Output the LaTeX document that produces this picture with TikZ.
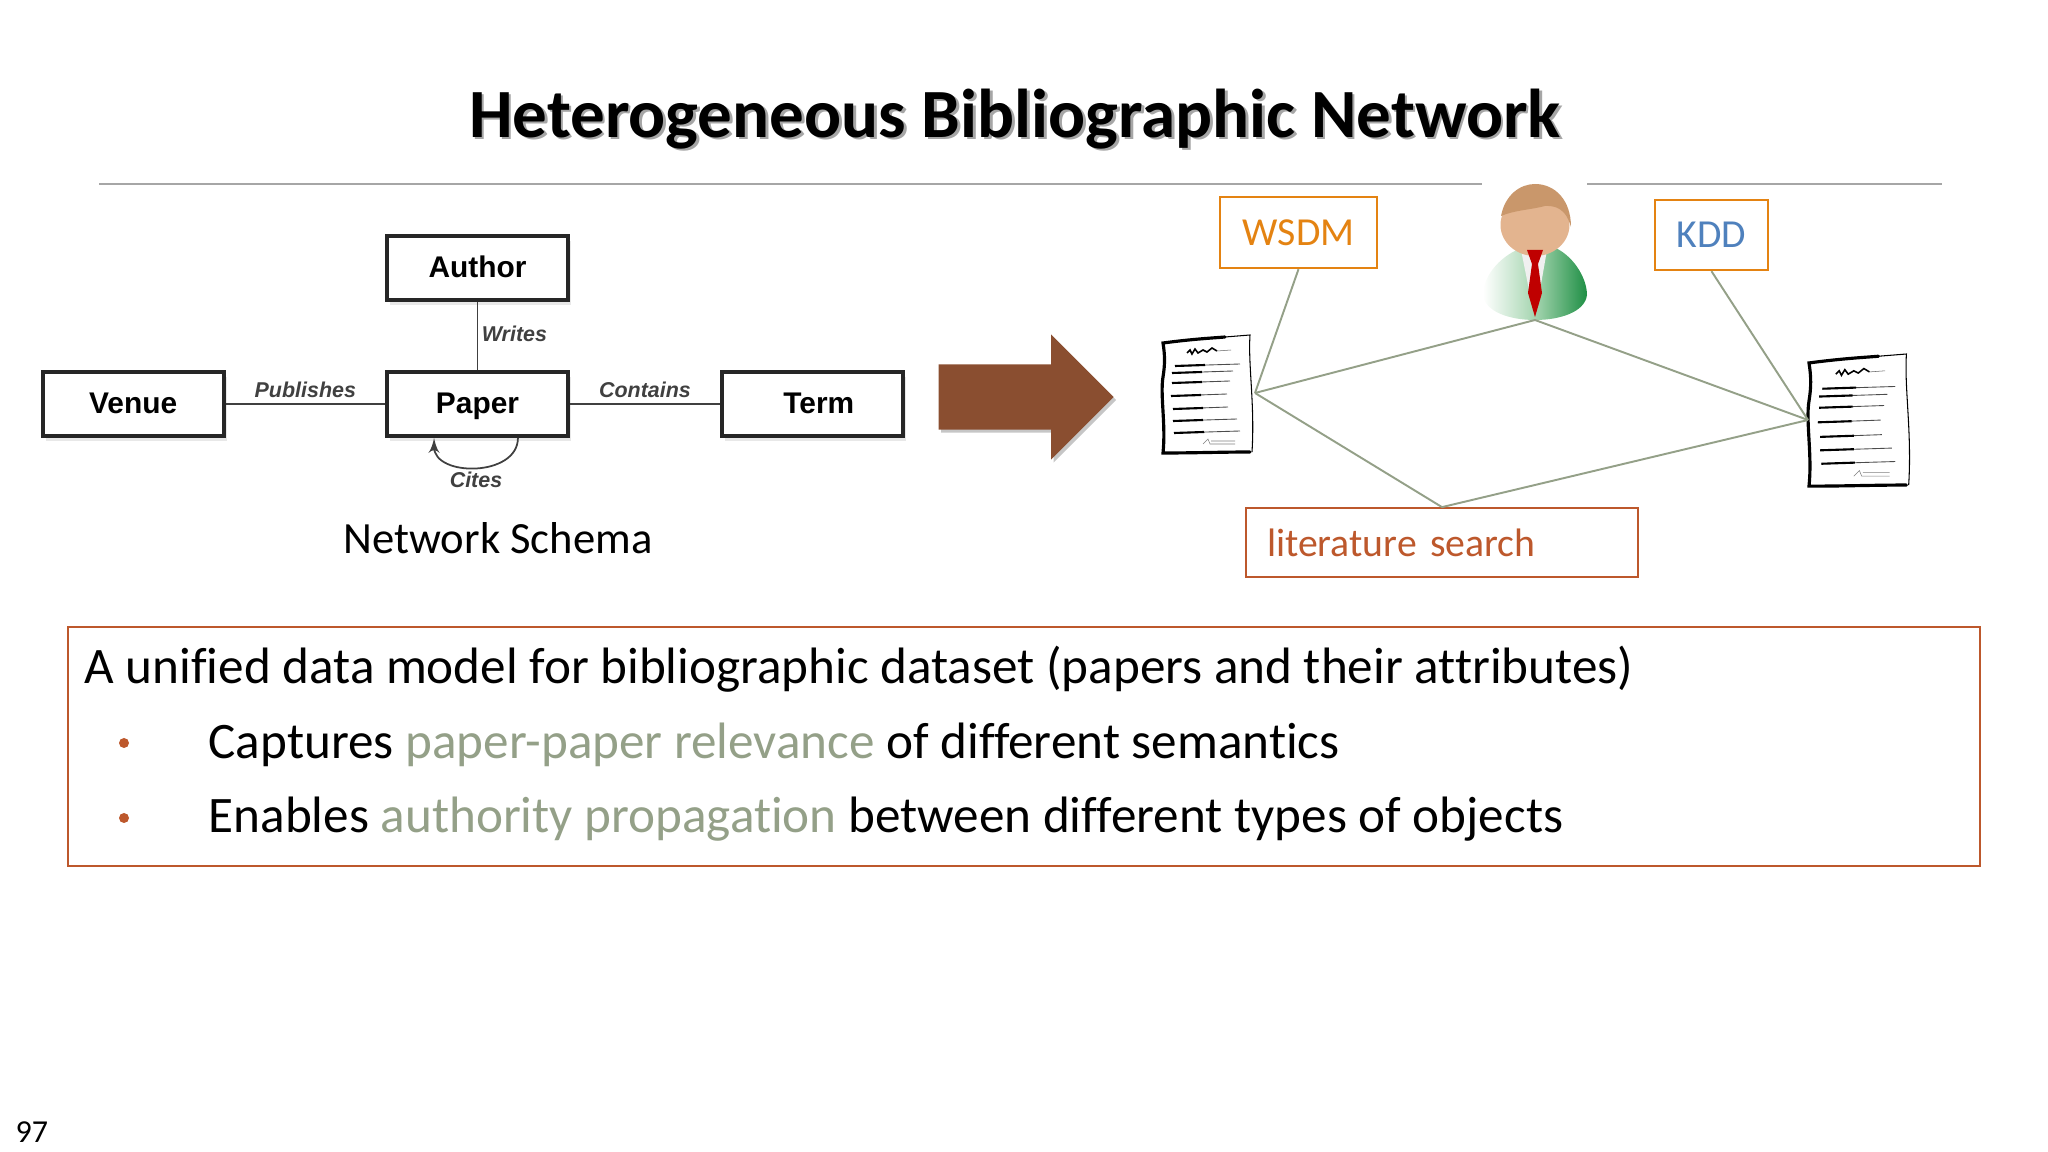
\documentclass[tikz,border=0pt]{standalone}
\usepackage{fontspec}
\setmainfont{Carlito}[Ligatures=CommonOff]
\newfontfamily\schemafont{Liberation Sans}
\usetikzlibrary{arrows, positioning, shadows, shapes.arrows}
\definecolor{sorange}{HTML}{E48312}
\definecolor{srust}{HTML}{BD582C}
\definecolor{sbrown}{HTML}{8A4E30}
\definecolor{ssage}{HTML}{94A088}
\definecolor{sblue}{HTML}{4F81BD}
\definecolor{sgreen}{HTML}{1F8F45}
\definecolor{spale}{HTML}{A5D5B0}
\definecolor{shair}{HTML}{C9976B}
\definecolor{sface}{HTML}{E3B48F}
\newcommand{\sage}[1]{\textcolor{ssage}{#1}}

\begin{document}
\begin{tikzpicture}
    [
        x=1cm, y=-1cm,
        node distance=7mm,
        entity/.style ={rectangle, draw=black!85, line width=1.1pt, fill=white,
                        minimum width=18.1mm, minimum height=6.4mm, inner sep=0pt,
                        text height=2.4mm, text depth=.5mm,
                        font=\schemafont\bfseries\fontsize{8.5}{10}\selectfont,
                        drop shadow={opacity=.18, shadow xshift=.3mm, shadow yshift=-.5mm}},
        relation/.style ={font=\schemafont\bfseries\itshape\fontsize{6.1}{8}\selectfont,
                        text=black!75, inner sep=1pt},
        rel/.style  ={draw=black!75, line width=.5pt},
        venue/.style ={rectangle, draw=#1, line width=.7pt, fill=white, inner sep=0pt,
                        font=\fontsize{11.3}{14}\selectfont},
        link/.style ={draw=ssage, line width=.55pt},
        bodytext/.style ={anchor=base west, inner sep=0pt, text=black,
                        font=\fontsize{14.56}{17}\selectfont},
        bullet/.style ={circle, fill=srust, inner sep=0pt, minimum size=1mm},
        docline/.style ={line width=.25pt, black!70},
        paperdoc/.pic={
            \fill[white] (0,.08) -- (.87,0) -- (.9,1.16) -- (0,1.18) -- cycle;
            \draw[line width=.9pt, line cap=round] (.87,1.17)
                .. controls (.6,1.17) and (.3,1.18) .. (0,1.18)
                .. controls (.03,.9) and (-.03,.6) .. (0,.42)
                .. controls (.02,.3) and (.02,.2) .. (0,.08)
                .. controls (.3,.04) and (.5,.03) .. (.62,.02);
            \draw[line width=.3pt] (.62,.02) -- (.87,0)
                .. controls (.85,.3) and (.92,.7) .. (.89,1.17);
            \draw[line width=.45pt] (.24,.18) -- (.27,.15) -- (.29,.19) -- (.32,.14) -- (.35,.18)
                -- (.4,.15) -- (.44,.17) -- (.49,.13) -- (.54,.16);
            \draw[line width=.15pt, black!60] (.54,.16) -- (.68,.15);
            \foreach \xa/\xb/\yy in {.12/.77/.31, .09/.7/.38, .09/.67/.48, .08/.64/.61,
                                     .1/.65/.74, .1/.74/.86, .11/.77/.98}
            {
                \draw[docline] (\xa,\yy) -- (\xb,\yy-.02);
                \draw[line width=.6pt] (\xa,\yy) -- ({\xa+.3},\yy-.01);
            }
            \draw[line width=.15pt, black!50] (.4,1.09) -- (.45,1.04) -- (.47,1.09) -- (.72,1.09)
                (.48,1.06) -- (.72,1.06);
        },
        reader/.pic={
            % shoulders
            \shade[left color=white, right color=sgreen, middle color=spale]
                (-.52,-.25) .. controls (-.52,-.42) and (-.38,-.62) .. (-.14,-.72)
                -- (.16,-.74) .. controls (.38,-.66) and (.52,-.42) .. (.52,-.25)
                .. controls (.5,-.08) and (.25,0) .. (0,0)
                .. controls (-.25,0) and (-.5,-.08) .. (-.52,-.25) -- cycle;
            \fill[black!6] (-.14,-.7) -- (.12,-.7) -- (.05,-.3) -- (-.06,-.3) -- cycle;
            % head and hair
            \fill[sface] (0,-.95) ellipse (.345 and .31);
            \fill[shair] (-.34,-1.04) .. controls (-.3,-1.25) and (-.15,-1.36) .. (0,-1.36)
                .. controls (.2,-1.36) and (.36,-1.2) .. (.36,-.93)
                .. controls (.33,-1.03) and (.28,-1.15) .. (.1,-1.14)
                .. controls (-.05,-1.1) and (-.2,-1.1) .. (-.34,-1.04) -- cycle;
            % tie
            \fill[red!75!black] (-.08,-.7) -- (.08,-.7) -- (.03,-.56) -- (.07,-.27) -- (0,-.03)
                -- (-.07,-.27) -- (-.03,-.56) -- cycle;
        }
    ]

    \useasboundingbox (0,0) rectangle (20.48,11.52);

    % title and rule
    \node[text=black!35, font=\bfseries\fontsize{19.65}{22}\selectfont] (titleshade) at (10.175,1.215) {Heterogeneous Bibliographic Network};
    \node[font=\bfseries\fontsize{19.65}{22}\selectfont] (title) at (10.15,1.19) {Heterogeneous Bibliographic Network};
    \coordinate (rulea) at (.99,1.84);
    \coordinate (ruleb) at (14.82,1.84);
    \coordinate (rulec) at (15.87,1.84);
    \coordinate (ruled) at (19.42,1.84);
    \draw[black!35, line width=.3pt] (rulea) -- (ruleb) (rulec) -- (ruled);

    % schema
    \node[entity]     (paper)                          at (4.775,4.04) {Paper};
    \node[entity]     (author)  [above=6.8mm of paper]                  {Author};
    \node[entity]     (venue)   [left=15.95mm of paper]                 {Venue};
    \node[entity]     (term)    [right=15mm of paper]                   {\hspace*{1.3mm}Term};

    \draw[rel]     (author) to node[relation, right, yshift=.2mm] {Writes} (paper);
    \draw[rel]     (venue) to node[relation, above, yshift=.2mm] {Publishes} (paper);
    \draw[rel]     (paper) to node[relation, above, yshift=.2mm] {Contains} (term);
    \draw[rel, ->, >=latex'] (paper.-40) to [out=-90, in=-90, looseness=1.2]
        node[relation, below] {Cites} (paper.-142);

    \node[font=\fontsize{12.7}{14}\selectfont, inner sep=0pt] (schema) at (4.98,5.38) {Network Schema};

    % big arrow
    \node[single arrow, fill=sbrown, draw=none, anchor=west, inner xsep=0pt, inner ysep=3.2mm,
          minimum height=17.5mm, single arrow head extend=3mm,
          drop shadow={opacity=.45, shadow xshift=.25mm, shadow yshift=-.3mm}] (bigarrow) at (9.38,3.97) {};

    % instance network
    \node[venue=sorange, text=sorange, minimum width=15.7mm, minimum height=7.1mm] (wsdm) at (12.985,2.325) {WSDM};
    \node[venue=sorange, text=sblue, minimum width=11.3mm, minimum height=7mm]     (kdd)  at (17.115,2.35) {KDD};
    \node[venue=srust, text=srust, minimum width=39.2mm, minimum height=6.9mm, text width=35mm, align=left, line width=.5pt] (topic) at (14.42,5.425) {literature search};

    \pic at (15.35,3.2) {reader};
    \coordinate (person) at (15.35,3.2);
    \pic at (11.63,3.35) {paperdoc};
    \pic[scale=1.12] at (18.09,3.54) {paperdoc};
    \coordinate (docleft) at (12.55,3.93);
    \coordinate (docright) at (18.08,4.2);

    \draw[link]     (wsdm.south) to (docleft);
    \draw[link]     (person) to (docleft);
    \draw[link]     (docleft) to (topic.north);
    \draw[link]     (person) to (docright);
    \draw[link]     (topic.north) to (docright);
    \draw[link]     (kdd.south) to (docright);

    % summary box
    \node[draw=srust, line width=.6pt, minimum width=191.2mm, minimum height=23.9mm, inner sep=0pt] (summary) at (10.24,7.465) {};
    \node[bodytext] (linea) at (.84,6.84) {A unified data model for bibliographic dataset (papers and their attributes)};
    \node[bullet]   (bula)  at (1.24,7.43) {};
    \node[bodytext] (lineb) at (2.08,7.58) {Captures \sage{paper-paper relevance} of different semantics};
    \node[bullet]   (bulb)  at (1.24,8.18) {};
    \node[bodytext] (linec) at (2.08,8.325) {Enables \sage{authority propagation} between different types of objects};

    \node[anchor=base west, inner sep=0pt, font=\fontsize{9.1}{11}\selectfont] (pagenum) at (.15,11.42) {97};
\end{tikzpicture}
\end{document}
